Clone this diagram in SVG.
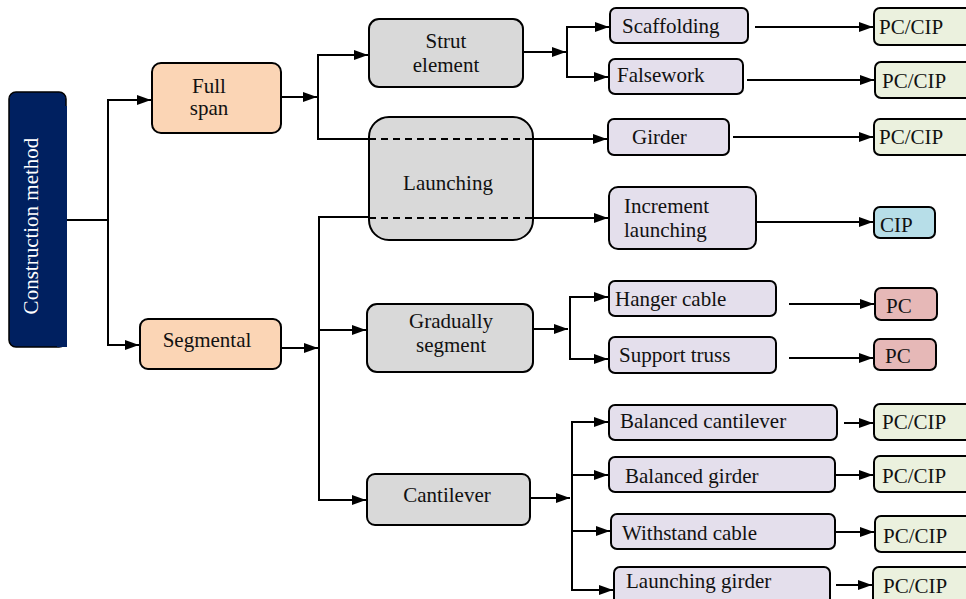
<svg xmlns="http://www.w3.org/2000/svg" width="966" height="599" viewBox="0 0 966 599" font-family="'Liberation Serif', 'Times New Roman', serif" font-size="21">
<defs>
<marker id="ah" markerUnits="userSpaceOnUse" markerWidth="14" markerHeight="10" refX="14" refY="5" orient="auto">
<path d="M0,0 L14,5 L0,10 z" fill="#000"/>
</marker>
<style>
text{fill:#111}
.c{text-anchor:middle}
.b{stroke:#000;stroke-width:2}
.orange{fill:#fbd5b5}
.grey{fill:#d9d9d9}
.lav{fill:#e4dfec}
.green{fill:#ebf1de}
.blue{fill:#b7dee8}
.red{fill:#e6b8b7}
.ln{fill:none;stroke:#000;stroke-width:2}
.ar{fill:none;stroke:#000;stroke-width:2;marker-end:url(#ah)}
.ds{fill:none;stroke:#000;stroke-width:2;stroke-dasharray:7,5}
</style>
</defs>
<rect width="966" height="599" fill="#fff"/>

<g id="n-construction">
<rect x="9" y="92" width="57" height="255" rx="7" fill="#002060" stroke="#000" stroke-width="1.5"/>
<rect x="57" y="106" width="10" height="241" fill="#002060"/>
<text class="c" transform="translate(38,226) rotate(-90)" style="fill:#fff">Construction method</text>
</g>

<g id="n-fullspan">
<rect class="b orange" x="152" y="63" width="129" height="70" rx="9"/>
<text class="c" x="209" y="93">Full</text>
<text class="c" x="209" y="115">span</text>
</g>

<g id="n-segmental">
<rect class="b orange" x="140" y="319" width="141" height="50" rx="8"/>
<text class="c" x="207" y="347">Segmental</text>
</g>

<g id="n-strut">
<rect class="b grey" x="369" y="19" width="154" height="68" rx="10"/>
<text class="c" x="446" y="48">Strut</text>
<text class="c" x="446" y="72">element</text>
</g>

<g id="n-launching">
<rect class="b grey" x="369" y="117" width="164" height="123" rx="20"/>
<text class="c" x="448" y="190">Launching</text>
</g>

<g id="n-gradually">
<rect class="b grey" x="367" y="304" width="166" height="68" rx="10"/>
<text class="c" x="451" y="328">Gradually</text>
<text class="c" x="451" y="352">segment</text>
</g>

<g id="n-cantilever">
<rect class="b grey" x="367" y="474" width="163" height="51" rx="8"/>
<text class="c" x="447" y="502">Cantilever</text>
</g>

<g id="n-scaffolding">
<rect class="b lav" x="610" y="8" width="138" height="35" rx="6"/>
<text x="622" y="33">Scaffolding</text>
</g>
<g id="n-falsework">
<rect class="b lav" x="609" y="59" width="134" height="35" rx="6"/>
<text x="617" y="82">Falsework</text>
</g>
<g id="n-girder">
<rect class="b lav" x="608" y="119" width="121" height="36" rx="6"/>
<text x="632" y="144">Girder</text>
</g>
<g id="n-increment">
<rect class="b lav" x="609" y="187" width="147" height="62" rx="9"/>
<text x="624" y="213">Increment</text>
<text x="624" y="237">launching</text>
</g>
<g id="n-hanger">
<rect class="b lav" x="609" y="281" width="167" height="35" rx="6"/>
<text x="615" y="306">Hanger cable</text>
</g>
<g id="n-support">
<rect class="b lav" x="609" y="337" width="167" height="36" rx="6"/>
<text x="619" y="362">Support truss</text>
</g>
<g id="n-balcant">
<rect class="b lav" x="609" y="405" width="228" height="35" rx="6"/>
<text x="620" y="428">Balanced cantilever</text>
</g>
<g id="n-balgirder">
<rect class="b lav" x="609" y="457" width="226" height="35" rx="6"/>
<text x="625" y="483">Balanced girder</text>
</g>
<g id="n-withstand">
<rect class="b lav" x="611" y="514" width="224" height="35" rx="6"/>
<text x="622" y="540">Withstand cable</text>
</g>
<g id="n-launchgirder">
<rect class="b lav" x="614" y="567" width="216" height="40" rx="6"/>
<text x="626" y="588">Launching girder</text>
</g>

<g id="n-r1"><rect class="b green" x="874" y="8" width="100" height="37" rx="6"/><text x="879" y="34">PC/CIP</text></g>
<g id="n-r2"><rect class="b green" x="875" y="62" width="100" height="36" rx="6"/><text x="882" y="88">PC/CIP</text></g>
<g id="n-r3"><rect class="b green" x="874" y="119" width="100" height="36" rx="6"/><text x="879" y="144">PC/CIP</text></g>
<g id="n-r4"><rect class="b blue" x="874" y="207" width="61" height="31" rx="6"/><text x="880" y="232">CIP</text></g>
<g id="n-r5"><rect class="b red" x="875" y="288" width="62" height="32" rx="6"/><text x="886" y="313">PC</text></g>
<g id="n-r6"><rect class="b red" x="874" y="339" width="62" height="31" rx="6"/><text x="885" y="363">PC</text></g>
<g id="n-r7"><rect class="b green" x="874" y="404" width="100" height="36" rx="6"/><text x="882" y="429">PC/CIP</text></g>
<g id="n-r8"><rect class="b green" x="874" y="456" width="100" height="36" rx="6"/><text x="882" y="483">PC/CIP</text></g>
<g id="n-r9"><rect class="b green" x="875" y="516" width="100" height="36" rx="6"/><text x="883" y="543">PC/CIP</text></g>
<g id="n-r10"><rect class="b green" x="873" y="567" width="100" height="40" rx="6"/><text x="883" y="593">PC/CIP</text></g>

<g id="connectors">
<path class="ln" d="M67,220 H108 M108,99 V346"/>
<path class="ar" d="M107,100 H151"/>
<path class="ar" d="M107,345 H139"/>
<path class="ar" d="M281,97 H317"/>
<path class="ln" d="M318,54 V140"/>
<path class="ar" d="M317,55 H368"/>
<path class="ln" d="M317,139 H369"/>
<path class="ds" d="M369,139 H533"/>
<path class="ar" d="M533,139 H607"/>
<path class="ln" d="M319,217 V501 M318,217 H369"/>
<path class="ds" d="M369,218 H533"/>
<path class="ar" d="M533,218 H608"/>
<path class="ar" d="M281,348 H318"/>
<path class="ar" d="M319,330 H366"/>
<path class="ar" d="M318,500 H366"/>
<path class="ar" d="M523,52 H566"/>
<path class="ln" d="M567,26 V78"/>
<path class="ar" d="M566,27 H609"/>
<path class="ar" d="M566,77 H608"/>
<path class="ar" d="M755,27 H873"/>
<path class="ar" d="M747,80 H874"/>
<path class="ar" d="M733,137 H873"/>
<path class="ar" d="M756,222 H873"/>
<path class="ar" d="M533,329 H568"/>
<path class="ln" d="M570,296 V360"/>
<path class="ar" d="M569,297 H608"/>
<path class="ar" d="M569,359 H608"/>
<path class="ar" d="M789,304 H874"/>
<path class="ar" d="M789,358 H873"/>
<path class="ar" d="M530,498 H570"/>
<path class="ln" d="M572,421 V591"/>
<path class="ar" d="M571,422 H608"/>
<path class="ar" d="M571,475 H608"/>
<path class="ar" d="M571,531 H610"/>
<path class="ar" d="M571,590 H613"/>
<path class="ar" d="M844,423 H873"/>
<path class="ar" d="M836,475 H873"/>
<path class="ar" d="M836,532 H874"/>
<path class="ar" d="M836,585 H872"/>
</g>
</svg>
